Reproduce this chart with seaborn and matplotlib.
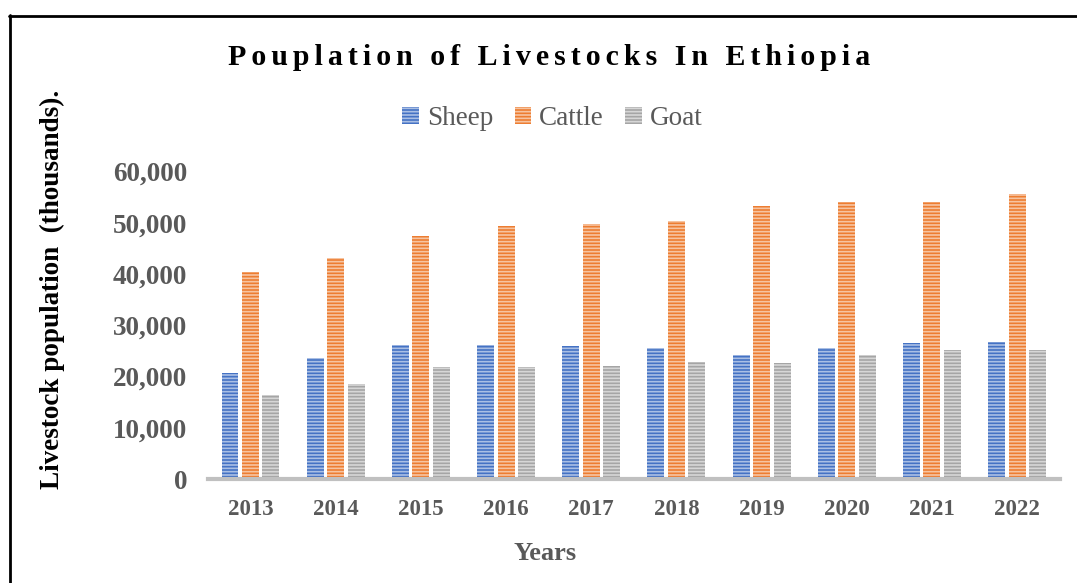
import numpy as np
import pandas as pd
import matplotlib
matplotlib.use("Agg")
import matplotlib.pyplot as plt
from matplotlib.patches import Patch
from matplotlib.lines import Line2D
from matplotlib.ticker import FuncFormatter
import seaborn as sns

# Livestock population in Ethiopia (thousands of head)
years = ["2013", "2014", "2015", "2016", "2017", "2018", "2019", "2020", "2021", "2022"]
sheep = [20700, 23600, 26200, 26200, 26000, 25600, 24300, 25600, 26600, 26700]
cattle = [40400, 43100, 47500, 49300, 49800, 50300, 53300, 54000, 54000, 55600]
goat = [16400, 18600, 21900, 21900, 22100, 22900, 22700, 24200, 25100, 25100]
series_names = ["Sheep", "Cattle", "Goat"]
series_colors = ["#4472C4", "#ED7D31", "#A5A5A5"]

df = pd.DataFrame({
    "Year": years * 3,
    "Species": [s for s in series_names for _ in years],
    "Population": sheep + cattle + goat,
})

sns.set_theme(style="white")
plt.rcParams["font.family"] = ["Liberation Serif", "DejaVu Serif"]
plt.rcParams["hatch.linewidth"] = 1.2

fig = plt.figure(figsize=(10.77, 5.83), dpi=100)
ax = fig.add_axes([0.193, 0.178, 0.791, 0.528])

sns.barplot(data=df, x="Year", y="Population", hue="Species",
            hue_order=series_names, palette=series_colors,
            width=0.72, gap=0.17, saturation=1, legend=False, ax=ax)

# striped fill on every bar
for p in ax.patches:
    p.set_hatch("-----")
    p.set_edgecolor((1, 1, 1, 0.55))
    p.set_linewidth(0)

ax.set_xlim(-0.5, len(years) - 0.5)
ax.set_ylim(0, 60000)
ax.set_yticks(np.arange(0, 60001, 10000))
ax.yaxis.set_major_formatter(FuncFormatter(lambda v, _: f"{int(v):,}"))
ax.tick_params(axis="y", length=0, pad=15, labelsize=19.5, labelcolor="#595959")
ax.tick_params(axis="x", length=0, pad=14, labelsize=16.5, labelcolor="#595959")
for lab in ax.get_yticklabels() + ax.get_xticklabels():
    lab.set_fontweight("bold")

for side in ["left", "right", "top"]:
    ax.spines[side].set_visible(False)
ax.spines["bottom"].set_color("#C0C0C0")
ax.spines["bottom"].set_linewidth(3)
ax.set_xlabel("")
ax.set_ylabel("")

# axis titles
fig.text(0.506, 0.051, "Years", ha="center", va="center", fontsize=19,
         fontweight="bold", color="#595959")
fig.text(0.049, 0.503, "Livestock population  (thousands).", rotation=90,
         ha="center", va="center", fontsize=19.5, fontweight="bold", color="black")

# spaced-out chart title
title = "Pouplation of Livestocks In Ethiopia"
spaced = "\u200a\u200a".join(title)
fig.text(0.51, 0.902, spaced, ha="center", va="center", fontsize=21.5,
         fontweight="bold", color="black")

# legend with striped swatches
handles = [Patch(facecolor=c, edgecolor=(1, 1, 1, 0.55), hatch="-----",
                 linewidth=0, label=n)
           for n, c in zip(series_names, series_colors)]
leg = fig.legend(handles=handles, loc="center", bbox_to_anchor=(0.513, 0.797),
                 ncol=3, frameon=False, fontsize=19.5, handlelength=0.6,
                 handleheight=0.6, handletextpad=0.3, columnspacing=0.8)
for t in leg.get_texts():
    t.set_color("#595959")

# outer frame lines
fig.add_artist(Line2D([9 / 1077, 1.0], [1 - 15.5 / 583, 1 - 15.5 / 583],
                      transform=fig.transFigure, color="black", linewidth=2))
fig.add_artist(Line2D([9.5 / 1077, 9.5 / 1077], [0.0, 1 - 15 / 583],
                      transform=fig.transFigure, color="black", linewidth=2))

fig.savefig("out.png", dpi=100)
